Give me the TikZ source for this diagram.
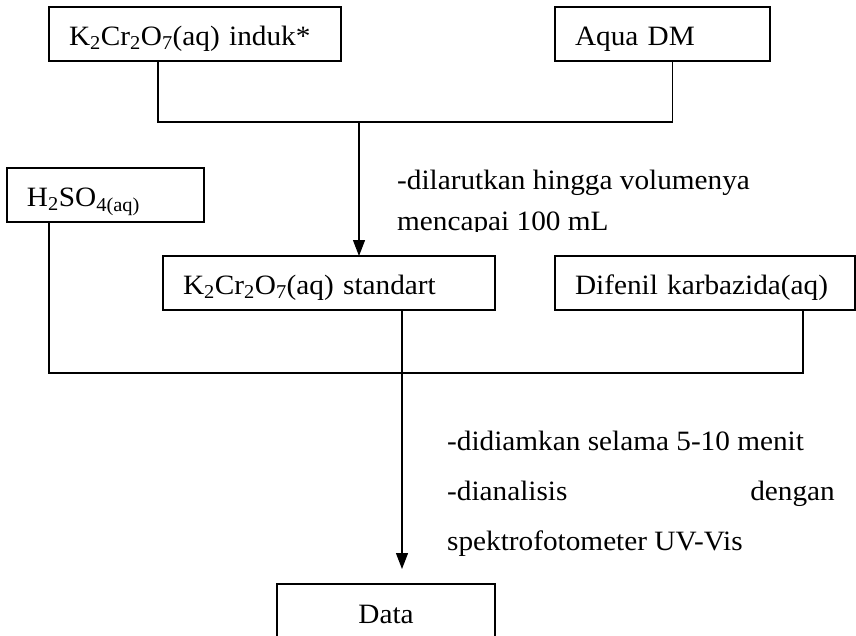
\documentclass[tikz,border=0pt]{standalone}
\usepackage{fontspec}
\setmainfont[FakeStretch=1.045]{Liberation Serif}
\usetikzlibrary{arrows.meta}
\begin{document}
\begin{tikzpicture}[x=1pt,y=-1pt,
  every node/.style={font=\fontsize{28}{34}\selectfont},
  box/.style={draw, line width=1.6pt, inner xsep=20pt, inner ysep=0pt, outer sep=0pt,
    text height=26pt, text depth=3pt, minimum height=54pt, align=left, anchor=north west},
  conn/.style={line width=1.3pt},
  arr/.style={conn, -{Triangle[length=16pt,width=12pt]}},
  note/.style={anchor=base west, inner sep=0pt}]
\useasboundingbox (0,0) rectangle (856,635);
\node[box, text width=252pt] (b1) at (49,7) {K\textsubscript{2}Cr\textsubscript{2}O\textsubscript{7}(aq) induk*};
\node[box, text width=175pt] (aqua) at (555,7) {Aqua DM};
\node[box, text width=157pt] (h2so4) at (7,168) {H\textsubscript{2}SO\textsubscript{4(aq)}};
\node[box, text width=292pt] (std) at (163,256) {K\textsubscript{2}Cr\textsubscript{2}O\textsubscript{7}(aq) standart};
\node[box, text width=260pt] (dif) at (555,256) {Difenil karbazida(aq)};
\node[box, text width=178pt, align=center, minimum height=56pt] (data) at (277,584) {Data};
\draw[conn] ([xshift=-37pt]b1.south) -- ++(0,61) -| ([xshift=10pt]aqua.south);
\coordinate (m1) at (359,123);
\draw[arr] (m1) -- (m1 |- std.north);
\coordinate (m2) at (402,373);
\draw[conn] ([xshift=-56.5pt]h2so4.south) |- (m2) -| ([xshift=98pt]dif.south);
\draw[arr, shorten >=15pt] ([xshift=73pt]std.south) -- (m2 |- data.north);
\node[note] (t1) at (397,189) {-dilarutkan hingga volumenya};
\begin{scope}
\clip (390,150) rectangle (800,231);
\node[note] (t2) at (397,230) {mencapai 100 mL};
\end{scope}
\node[note] (t3) at (447,450) {-didiamkan selama 5-10 menit};
\node[note] (t4) at (447,500) {-dianalisis};
\node[note, anchor=base east] (t5) at (835,500) {dengan};
\node[note] (t6) at (447,550) {spektrofotometer UV-Vis};
\end{tikzpicture}
\end{document}
